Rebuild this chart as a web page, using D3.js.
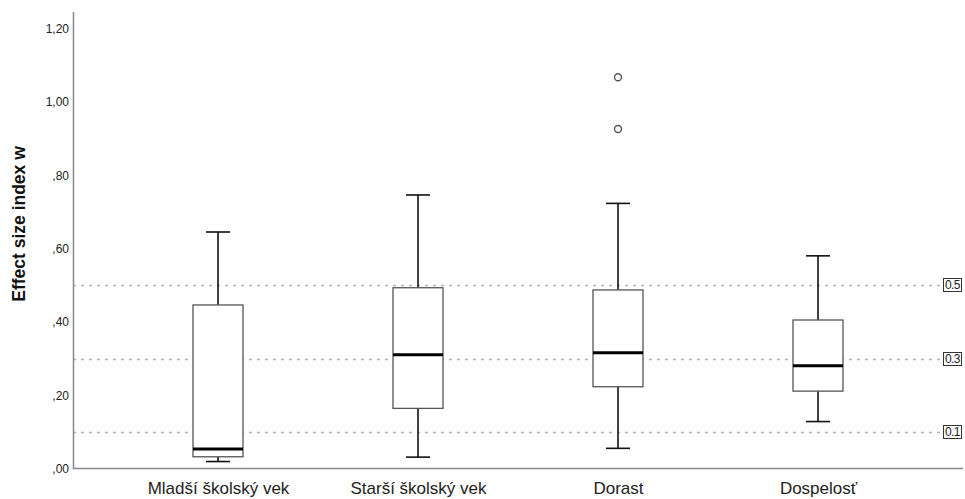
<!DOCTYPE html>
<html>
<head>
<meta charset="utf-8">
<script src="https://cdn.jsdelivr.net/npm/d3@7"></script>
<style>
  html, body { margin: 0; padding: 0; background: #fff; }
  svg { display: block; font-family: "Liberation Sans", Arial, sans-serif; }
</style>
</head>
<body>
<div id="chart"></div>
<script>
// categories and box statistics
const categories = ["Mladší školský vek", "Starší školský vek", "Dorast", "Dospelosť"];
const whiskerLow = [0.019, 0.031, 0.055, 0.128];
const q1 = [0.032, 0.164, 0.223, 0.211];
const median = [0.053, 0.310, 0.316, 0.280];
const q3 = [0.446, 0.493, 0.487, 0.405];
const whiskerHigh = [0.645, 0.746, 0.723, 0.580];
const outliers = [[], [], [1.067, 0.926], []];
const yTicks = [0, 0.2, 0.4, 0.6, 0.8, 1.0, 1.2];
const refLines = [0.1, 0.3, 0.5];

const W = 965, H = 499;
const FONT = "'Liberation Sans', Arial, sans-serif";
const svg = d3.select("#chart").append("svg").attr("width", W).attr("height", H);

const y = d3.scaleLinear().domain([0, 1.245]).range([468.5, 12]);
const x = d3.scalePoint().domain(categories).range([73, 963]).padding(0.725);

const fmt = (v) => {
  const s = v.toFixed(2).replace(".", ",");
  return s.startsWith("0") ? s.slice(1) : s;
};

// reference lines
const gRef = svg.append("g");
gRef.selectAll("line").data(refLines).join("line")
  .attr("x1", 73).attr("x2", 943)
  .attr("y1", (d) => Math.round(y(d)) + 0.5).attr("y2", (d) => Math.round(y(d)) + 0.5)
  .attr("stroke", "#b4b4b4").attr("stroke-width", 1.3).attr("stroke-dasharray", "3,5");
const refLab = gRef.selectAll("g.lab").data(refLines).join("g").attr("class", "lab")
  .attr("transform", (d) => `translate(943.5,${Math.round(y(d)) - 6.5})`);
refLab.append("rect").attr("width", 18).attr("height", 13)
  .attr("fill", "#fff").attr("stroke", "#333").attr("stroke-width", 1);
refLab.append("text").attr("x", 9).attr("y", 10.5).attr("text-anchor", "middle")
  .attr("font-size", 12).attr("letter-spacing", -0.6).attr("fill", "#222").text((d) => String(d));

// axes
const yAxis = svg.append("g").attr("transform", "translate(73,0)")
  .call(d3.axisLeft(y).tickValues(yTicks).tickSize(0).tickPadding(4).tickFormat(fmt));
yAxis.select(".domain").remove();
yAxis.selectAll("text").attr("font-size", 12).attr("fill", "#222").attr("font-family", FONT);
svg.append("line").attr("x1", 73.5).attr("x2", 73.5).attr("y1", 12).attr("y2", 469)
  .attr("stroke", "#888").attr("stroke-width", 1.5);

const xAxis = svg.append("g").attr("transform", "translate(0,468.5)")
  .call(d3.axisBottom(x).tickSize(0).tickPadding(13));
xAxis.select(".domain").remove();
xAxis.selectAll("text").attr("font-size", 17).attr("fill", "#222").attr("font-family", FONT);
svg.append("line").attr("x1", 73).attr("x2", 963).attr("y1", 468.5).attr("y2", 468.5)
  .attr("stroke", "#888").attr("stroke-width", 1.5);

svg.append("text")
  .attr("transform", "translate(25,224) rotate(-90)")
  .attr("text-anchor", "middle").attr("font-size", 17.5).attr("font-weight", "bold").attr("fill", "#111")
  .attr("font-family", FONT)
  .text("Effect size index w");

// boxes
const data = categories.map((c, i) => ({
  c, lo: whiskerLow[i], q1: q1[i], med: median[i], q3: q3[i], hi: whiskerHigh[i], out: outliers[i]
}));
const boxW = 50, capW = 24;
const g = svg.append("g").selectAll("g").data(data).join("g")
  .attr("transform", (d) => `translate(${x(d.c)},0)`);

g.append("line").attr("x1", 0).attr("x2", 0)
  .attr("y1", (d) => y(d.hi)).attr("y2", (d) => y(d.q3))
  .attr("stroke", "#111").attr("stroke-width", 1.6);
g.append("line").attr("x1", 0).attr("x2", 0)
  .attr("y1", (d) => y(d.q1)).attr("y2", (d) => y(d.lo))
  .attr("stroke", "#111").attr("stroke-width", 1.6);
g.append("line").attr("x1", -capW / 2).attr("x2", capW / 2)
  .attr("y1", (d) => y(d.hi)).attr("y2", (d) => y(d.hi))
  .attr("stroke", "#111").attr("stroke-width", 1.6);
g.append("line").attr("x1", -capW / 2).attr("x2", capW / 2)
  .attr("y1", (d) => y(d.lo)).attr("y2", (d) => y(d.lo))
  .attr("stroke", "#111").attr("stroke-width", 1.6);
g.append("rect").attr("x", -boxW / 2).attr("width", boxW)
  .attr("y", (d) => y(d.q3)).attr("height", (d) => y(d.q1) - y(d.q3))
  .attr("fill", "#fff").attr("stroke", "#555").attr("stroke-width", 1.3);
g.append("line").attr("x1", -boxW / 2).attr("x2", boxW / 2)
  .attr("y1", (d) => y(d.med)).attr("y2", (d) => y(d.med))
  .attr("stroke", "#000").attr("stroke-width", 3);
g.selectAll("circle").data((d) => d.out).join("circle")
  .attr("cx", 0).attr("cy", (v) => y(v)).attr("r", 3.5)
  .attr("fill", "none").attr("stroke", "#555").attr("stroke-width", 1.4);
</script>
</body>
</html>
